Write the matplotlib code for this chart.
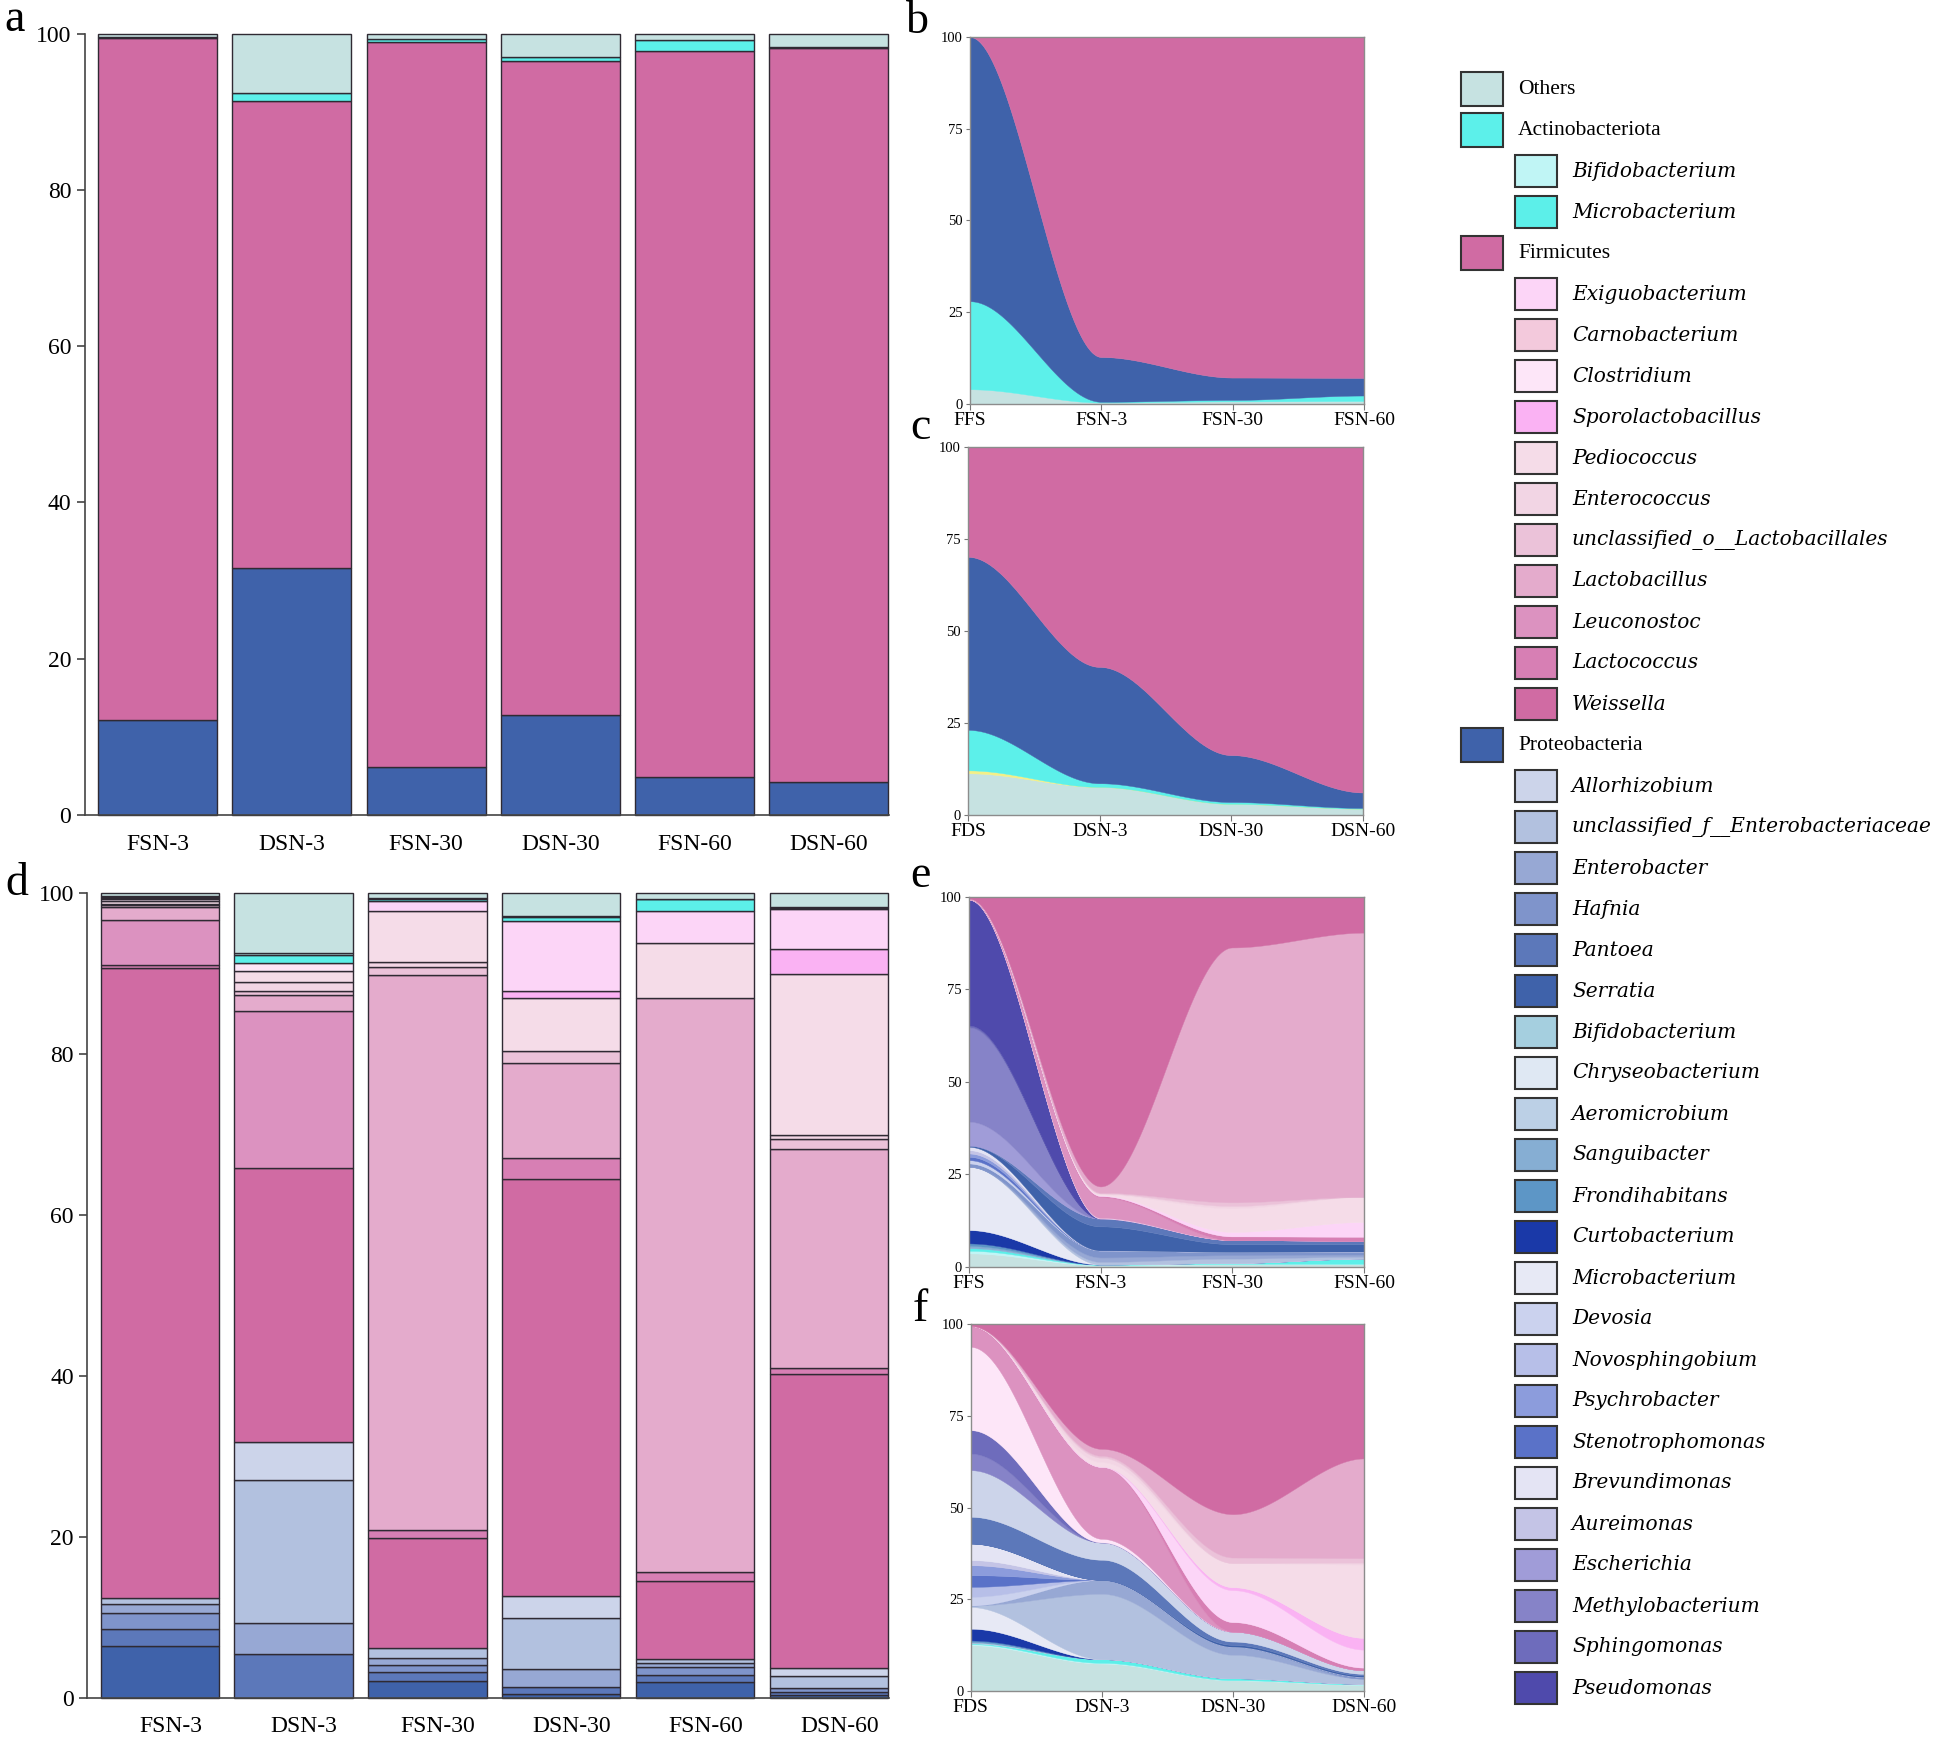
import numpy as np
import matplotlib.pyplot as plt
from matplotlib.patches import Rectangle

plt.rcParams['font.family'] = ['Liberation Serif', 'DejaVu Serif']

# ---------------- sample names ----------------
bar_samples = ['FSN-3', 'DSN-3', 'FSN-30', 'DSN-30', 'FSN-60', 'DSN-60']
fresh_samples = ['FFS', 'FSN-3', 'FSN-30', 'FSN-60']
dry_samples = ['FDS', 'DSN-3', 'DSN-30', 'DSN-60']
all_samples = ['FFS', 'FSN-3', 'FSN-30', 'FSN-60', 'FDS', 'DSN-3', 'DSN-30', 'DSN-60']

# ---------------- phylum level (%), columns follow all_samples ----------------
ph_others = [4.0, 0.4, 0.7, 0.8, 11.3, 7.6, 3.0, 1.7]
ph_minor = [0.0, 0.0, 0.0, 0.0, 0.8, 0.0, 0.0, 0.0]   # thin yellow band in c
ph_actino = [24.0, 0.2, 0.4, 1.5, 11.0, 1.0, 0.5, 0.2]
ph_proteo = [72.0, 12.2, 6.1, 4.8, 47.0, 31.6, 12.75, 4.2]
ph_firm = [0.0, 87.2, 92.8, 92.9, 29.9, 59.8, 83.75, 93.9]

# ---------------- genus level (%), only non-zero entries ----------------
g_FFS = {'Others': 3.6, 'Bifidobacterium_a': 0.7, 'Microbacterium_a': 0.7, 'Leuconostoc': 0.3,
         'Weissella': 0.5, 'Hafnia': 0.9, 'Serratia': 0.3, 'Sanguibacter': 0.6, 'Frondihabitans': 0.7,
         'Curtobacterium': 3.6, 'Microbacterium_p': 17.1, 'Devosia': 0.9, 'Psychrobacter': 0.9,
         'Stenotrophomonas': 0.9, 'Brevundimonas': 0.9, 'Aureimonas': 0.9, 'Escherichia': 6.5,
         'Methylobacterium': 25.5, 'Sphingomonas': 0.5, 'Pseudomonas': 34.0}
g_FSN3 = {'Others': 0.4, 'Bifidobacterium_a': 0.1, 'Microbacterium_a': 0.1, 'Exiguobacterium': 0.2,
          'Clostridium': 0.2, 'Pediococcus': 0.3, 'Enterococcus': 0.2, 'unclassified_o__Lactobacillales': 0.2,
          'Lactobacillus': 1.7, 'Leuconostoc': 5.6, 'Lactococcus': 0.3, 'Weissella': 78.3,
          'unclassified_f__Enterobacteriaceae': 0.7, 'Enterobacter': 1.2, 'Hafnia': 1.9, 'Pantoea': 2.1,
          'Serratia': 6.5}
g_FSN30 = {'Others': 0.6, 'Bifidobacterium_a': 0.2, 'Microbacterium_a': 0.2, 'Exiguobacterium': 1.2,
           'Pediococcus': 6.4, 'Enterococcus': 0.6, 'unclassified_o__Lactobacillales': 1.0,
           'Lactobacillus': 68.9, 'Lactococcus': 1.0, 'Weissella': 13.7,
           'unclassified_f__Enterobacteriaceae': 1.2, 'Enterobacter': 0.9, 'Hafnia': 0.9, 'Pantoea': 1.1,
           'Serratia': 2.1}
g_FSN60 = {'Others': 0.7, 'Bifidobacterium_a': 0.1, 'Microbacterium_a': 1.4, 'Exiguobacterium': 4.0,
           'Pediococcus': 6.8, 'Lactobacillus': 71.4, 'Lactococcus': 1.1, 'Weissella': 9.7,
           'unclassified_f__Enterobacteriaceae': 0.5, 'Enterobacter': 0.5, 'Hafnia': 0.9, 'Pantoea': 0.9,
           'Serratia': 2.0}
g_FDS = {'Others': 12.5, 'Bifidobacterium_a': 0.3, 'Microbacterium_a': 0.2, 'Clostridium': 22.7,
         'Leuconostoc': 5.5, 'Lactococcus': 0.2, 'Weissella': 0.5, 'Allorhizobium': 12.7,
         'unclassified_f__Enterobacteriaceae': 0.4, 'Pantoea': 7.3, 'Aeromicrobium': 0.2,
         'Sanguibacter': 0.2, 'Frondihabitans': 0.4, 'Curtobacterium': 3.2, 'Microbacterium_p': 5.9,
         'Devosia': 2.4, 'Novosphingobium': 2.7, 'Psychrobacter': 2.7, 'Stenotrophomonas': 3.2,
         'Brevundimonas': 4.5, 'Aureimonas': 1.4, 'Methylobacterium': 4.5, 'Sphingomonas': 6.4}
g_DSN3 = {'Others': 7.5, 'Bifidobacterium_a': 0.2, 'Microbacterium_a': 1.0, 'Clostridium': 1.0,
          'Pediococcus': 1.3, 'Enterococcus': 1.2, 'unclassified_o__Lactobacillales': 0.5,
          'Lactobacillus': 1.9, 'Leuconostoc': 19.6, 'Weissella': 34.0, 'Allorhizobium': 4.7,
          'unclassified_f__Enterobacteriaceae': 17.8, 'Enterobacter': 3.8, 'Pantoea': 5.5}
g_DSN30 = {'Others': 2.9, 'Bifidobacterium_a': 0.1, 'Microbacterium_a': 0.5, 'Exiguobacterium': 8.7,
           'Sporolactobacillus': 0.8, 'Pediococcus': 6.6, 'unclassified_o__Lactobacillales': 1.5,
           'Lactobacillus': 11.8, 'Lactococcus': 2.6, 'Weissella': 51.8, 'Allorhizobium': 2.7,
           'unclassified_f__Enterobacteriaceae': 6.4, 'Enterobacter': 2.2, 'Pantoea': 0.9, 'Serratia': 0.5}
g_DSN60 = {'Others': 1.7, 'Bifidobacterium_a': 0.1, 'Microbacterium_a': 0.2, 'Exiguobacterium': 4.9,
           'Sporolactobacillus': 3.2, 'Pediococcus': 20.0, 'Enterococcus': 0.5,
           'unclassified_o__Lactobacillales': 1.2, 'Lactobacillus': 27.2, 'Lactococcus': 0.7,
           'Weissella': 36.6, 'Allorhizobium': 1.0, 'unclassified_f__Enterobacteriaceae': 1.4,
           'Hafnia': 0.5, 'Pantoea': 0.4, 'Serratia': 0.4}

# legend order (top -> bottom): key, colour
genus_keys = ['Others', 'Bifidobacterium_a', 'Microbacterium_a',
              'Exiguobacterium', 'Carnobacterium', 'Clostridium', 'Sporolactobacillus', 'Pediococcus',
              'Enterococcus', 'unclassified_o__Lactobacillales', 'Lactobacillus', 'Leuconostoc',
              'Lactococcus', 'Weissella',
              'Allorhizobium', 'unclassified_f__Enterobacteriaceae', 'Enterobacter', 'Hafnia', 'Pantoea',
              'Serratia', 'Bifidobacterium_p', 'Chryseobacterium', 'Aeromicrobium', 'Sanguibacter',
              'Frondihabitans', 'Curtobacterium', 'Microbacterium_p', 'Devosia', 'Novosphingobium',
              'Psychrobacter', 'Stenotrophomonas', 'Brevundimonas', 'Aureimonas', 'Escherichia',
              'Methylobacterium', 'Sphingomonas', 'Pseudomonas']
genus_colors = ['#c6e2e1', '#c0f5f5', '#5cefe9',
                '#fcd5f7', '#f3c9dc', '#fde6f8', '#fab2f3', '#f5dce8',
                '#f2d5e4', '#ebc2d9', '#e4abcc', '#dc92c0',
                '#d77fb4', '#d06ba3',
                '#ccd4ea', '#b2c1df', '#97a8d4', '#7f94cb', '#5c78ba',
                '#3f62aa', '#a5cfdf', '#dfe8f3', '#bcd0e6', '#86aed3',
                '#5d96c6', '#1a39a8', '#e7e9f5', '#cbd2ee', '#b7bfe8',
                '#8c9cdc', '#5a72c8', '#e4e4f4', '#c4c4e6', '#a09cd8',
                '#8683c8', '#6e6cbc', '#4f4aac']

# stacking order for the smoothed area panels (bottom -> top)
stream_order = ['Others', 'Bifidobacterium_a', 'Microbacterium_a', 'Bifidobacterium_p', 'Chryseobacterium',
                'Aeromicrobium', 'Sanguibacter', 'Frondihabitans', 'Curtobacterium', 'Microbacterium_p',
                'unclassified_f__Enterobacteriaceae', 'Enterobacter', 'Hafnia', 'Devosia', 'Novosphingobium',
                'Stenotrophomonas', 'Psychrobacter', 'Aureimonas', 'Brevundimonas', 'Serratia', 'Pantoea',
                'Allorhizobium', 'Escherichia', 'Methylobacterium', 'Sphingomonas', 'Pseudomonas',
                'Clostridium', 'Leuconostoc', 'Lactococcus', 'Exiguobacterium', 'Carnobacterium',
                'Sporolactobacillus', 'Pediococcus', 'Enterococcus', 'unclassified_o__Lactobacillales',
                'Lactobacillus', 'Weissella']

phylum_colors = {'Others': '#c6e2e1', 'minor': '#f3ef88', 'Actinobacteriota': '#5cf0ea',
                 'Proteobacteria': '#3f62aa', 'Firmicutes': '#d06ba3'}
EDGE = '#2f2a33'
color_of = dict(zip(genus_keys, genus_colors))


def smooth_stack(ax, rows, colors, n=600):
    """stacked area with smooth (smoothstep) transitions between samples"""
    rows = np.asarray(rows, dtype=float)
    m = rows.shape[1]
    x = np.linspace(0, m - 1, n)
    i = np.minimum(np.floor(x).astype(int), m - 2)
    t = x - i
    s = t * t * (3 - 2 * t)
    cum = np.vstack([np.zeros(m), np.cumsum(rows, axis=0)])
    curves = cum[:, i] + (cum[:, i + 1] - cum[:, i]) * s
    for k in range(rows.shape[0]):
        if rows[k].max() <= 0:
            continue
        ax.fill_between(x, curves[k], curves[k + 1], facecolor=colors[k],
                        edgecolor=colors[k], linewidth=0.3)


def style_stream(ax, labels):
    ax.set_xlim(0, 3)
    ax.set_ylim(0, 100)
    ax.set_xticks(range(4))
    ax.set_xticklabels(labels, fontsize=14)
    ax.set_yticks([0, 25, 50, 75, 100])
    ax.tick_params(axis='y', labelsize=10.5, length=3, pad=2, color='#777777')
    ax.tick_params(axis='x', length=4, pad=2, color='#777777')
    for sp in ax.spines.values():
        sp.set_color('#8c8c8c')
        sp.set_linewidth(1.0)


def stacked_bars(ax, cols, keys, colors):
    x = np.arange(len(cols))
    bottom = np.zeros(len(cols))
    for key, col in zip(keys, colors):
        vals = np.array([c.get(key, 0.0) for c in cols])
        keep = vals > 0
        if keep.any():
            ax.bar(x[keep], vals[keep], bottom=bottom[keep], width=0.886, color=col,
                   edgecolor=EDGE, linewidth=1.0, clip_on=False)
        bottom += vals


def style_bars(ax, label_shift=0.0, pad=9):
    ax.set_xlim(-0.544, 5.45)
    ax.set_ylim(0, 100)
    ax.set_xticks(np.arange(6) + label_shift)
    ax.set_xticklabels(bar_samples)
    ax.set_yticks(range(0, 101, 20))
    ax.tick_params(axis='y', labelsize=17, length=6, width=1.2, color='#444444')
    ax.tick_params(axis='x', labelsize=17, length=0, pad=pad)
    ax.spines[['top', 'right']].set_visible(False)
    for sp in ['left', 'bottom']:
        ax.spines[sp].set_color('#444444')
        ax.spines[sp].set_linewidth(1.2)


fig = plt.figure(figsize=(19.48, 17.45), dpi=100)

# ---------------- a: phylum bars ----------------
phylum_cols = []
for j in range(len(all_samples)):
    phylum_cols.append({'Proteobacteria': ph_proteo[j], 'Firmicutes': ph_firm[j],
                        'Actinobacteriota': ph_actino[j], 'minor': ph_minor[j], 'Others': ph_others[j]})
col_by_sample = dict(zip(all_samples, phylum_cols))

ax_a = fig.add_axes([0.04338, 0.5330, 0.4132, 0.4478])
bar_keys = ['Proteobacteria', 'Firmicutes', 'Actinobacteriota', 'minor', 'Others']
stacked_bars(ax_a, [col_by_sample[s] for s in bar_samples], bar_keys,
             [phylum_colors[k] for k in bar_keys])
style_bars(ax_a, pad=14)

# ---------------- d: genus bars ----------------
genus_by_sample = {'FFS': g_FFS, 'FSN-3': g_FSN3, 'FSN-30': g_FSN30, 'FSN-60': g_FSN60,
                   'FDS': g_FDS, 'DSN-3': g_DSN3, 'DSN-30': g_DSN30, 'DSN-60': g_DSN60}
ax_d = fig.add_axes([0.04466, 0.02693, 0.4117, 0.4613])
bar_genus_keys = genus_keys[::-1]
stacked_bars(ax_d, [genus_by_sample[s] for s in bar_samples], bar_genus_keys,
             [color_of[k] for k in bar_genus_keys])
style_bars(ax_d, label_shift=0.08, pad=13)

# ---------------- b, c: phylum streams ----------------
stream_phyla = ['Others', 'minor', 'Actinobacteriota', 'Proteobacteria', 'Firmicutes']
for rect, samples in [([0.4979, 0.7685, 0.2023, 0.2103], fresh_samples),
                      ([0.4969, 0.5330, 0.2028, 0.2110], dry_samples)]:
    ax = fig.add_axes(rect)
    rows = [[col_by_sample[s][p] for s in samples] for p in stream_phyla]
    smooth_stack(ax, rows, [phylum_colors[p] for p in stream_phyla])
    style_stream(ax, samples)

# ---------------- e, f: genus streams ----------------
for rect, samples in [([0.4974, 0.2741, 0.2028, 0.2120], fresh_samples),
                      ([0.4983, 0.0309, 0.2020, 0.2103], dry_samples)]:
    ax = fig.add_axes(rect)
    rows = [[genus_by_sample[s].get(g, 0.0) for s in samples] for g in stream_order]
    smooth_stack(ax, rows, [color_of[g] for g in stream_order])
    style_stream(ax, samples)

# ---------------- panel letters ----------------
for letter, (px, py) in {'a': (15, 20), 'b': (917, 22), 'c': (920, 428),
                         'd': (17, 884), 'e': (920, 876), 'f': (920, 1310)}.items():
    fig.text(px / 1948, 1 - py / 1745, letter, fontsize=33, ha='center', va='center')

# ---------------- legend (drawn in pixel coordinates) ----------------
leg = fig.add_axes([0, 0, 1, 1])
leg.set_xlim(0, 1948)
leg.set_ylim(1745, 0)
leg.axis('off')

headers = {'Bifidobacterium_a': 'Actinobacteriota', 'Exiguobacterium': 'Firmicutes',
           'Allorhizobium': 'Proteobacteria'}
entries = []
for key in genus_keys:
    if key in headers:
        entries.append((headers[key], phylum_colors[headers[key]], 0))
    if key == 'Others':
        entries.append(('Others', color_of[key], 0))
    else:
        label = key[:-2] if key.endswith(('_a', '_p')) else key
        entries.append((label, color_of[key], 1))

y0, step = 89, 41.0
for n, (label, col, level) in enumerate(entries):
    yc = y0 + n * step
    if level == 0:
        leg.add_patch(Rectangle((1461, yc - 17), 42, 34, facecolor=col, edgecolor='#333333', lw=1.5))
        leg.text(1518, yc, label, fontsize=15.5, va='center', ha='left')
    else:
        leg.add_patch(Rectangle((1515, yc - 16), 42, 32, facecolor=col, edgecolor='#333333', lw=1.5))
        leg.text(1572, yc, label, fontsize=14.5, style='italic', family='DejaVu Serif',
                 va='center', ha='left')

fig.savefig('out.png', dpi=100)
